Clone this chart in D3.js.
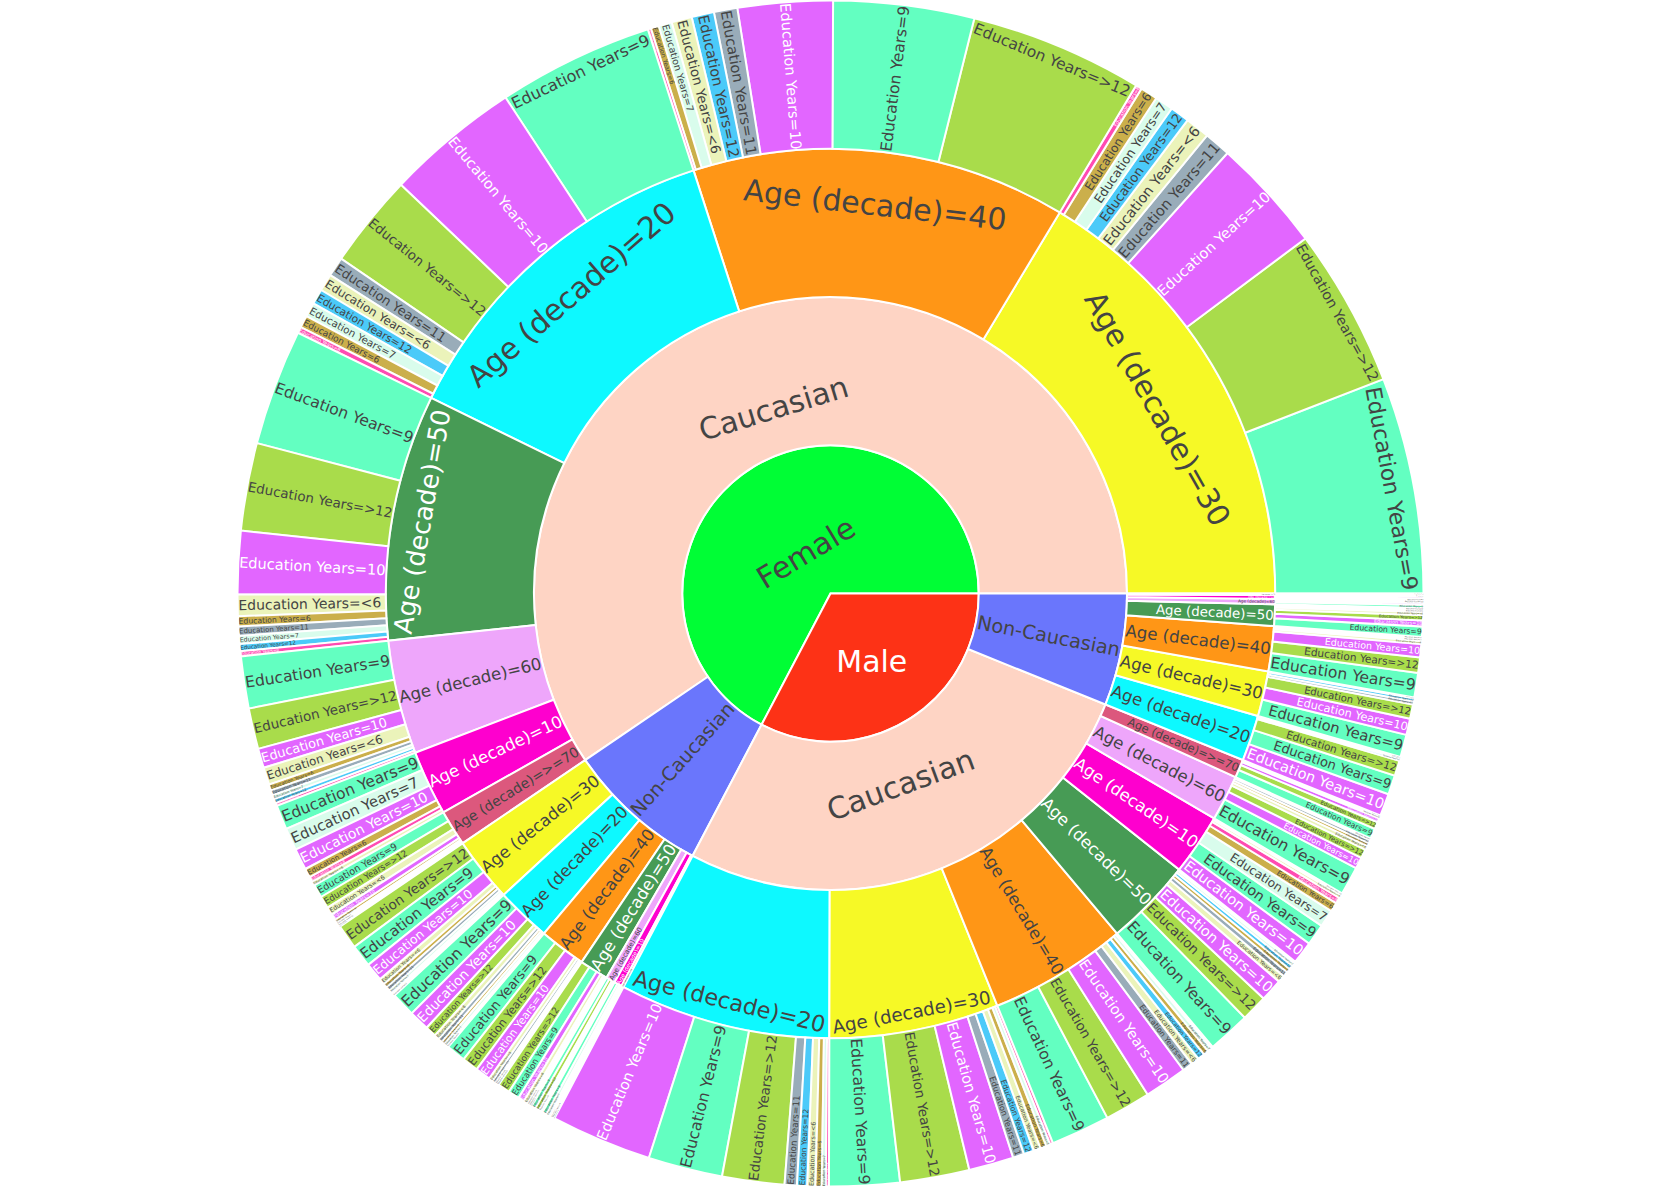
<!DOCTYPE html>
<html>
<head>
<meta charset="utf-8">
<script src="https://cdn.jsdelivr.net/npm/d3@7"></script>
<style>
  html, body { margin: 0; padding: 0; background: #fff; }
  svg { display: block; }
</style>
</head>
<body>
<svg id="chart" width="1661" height="1187"></svg>
<script>
// ---------------- data ----------------
const sexes = ["Female", "Male"];
const races = ["Caucasian", "Non-Caucasian"];
const ageLabels = ["10", "20", "30", "40", "50", "60", ">=70"];
const eduLabels = ["<6", "6", "7", "8", "9", "10", "11", "12", ">12"];

// rows: age decade, then counts for each education level (eduLabels order)
const femaleCaucasian = [
  ["10",   4,  9, 22, 5,  24,  21,  0,  0,   0],
  ["20",  17, 12, 14, 6, 153, 132, 19, 15,  92],
  ["30",  24, 17, 18, 6, 212, 112, 26, 19, 156],
  ["40",  20,  8, 13, 3, 138,  93, 23, 22, 170],
  ["50",  21, 10,  8, 5, 114,  62,  9,  7,  86],
  ["60",  17,  6,  4, 3,  51,  19,  5,  4,  40],
  [">=70", 8,  3,  2, 0,  13,   6,  2,  1,  12]
];
const femaleNonCaucasian = [
  ["10",   0, 1, 3, 0,  4,  2, 0, 0,  0],
  ["20",   5, 3, 3, 0, 24, 20, 4, 2, 11],
  ["30",   6, 4, 3, 2, 22, 18, 4, 2, 24],
  ["40",   4, 2, 0, 0, 19, 15, 3, 2, 16],
  ["50",   4, 2, 1, 0, 11,  6, 2, 0, 12],
  ["60",   2, 0, 0, 0,  4,  2, 0, 0,  4],
  [">=70", 0, 0, 0, 0,  2,  0, 0, 0,  1]
];
const maleCaucasian = [
  ["10",   3, 9, 17, 6, 21, 22,  2,  0,  0],
  ["20",   8, 6,  4, 3, 73, 99, 12, 10, 61],
  ["30",   7, 6,  4, 3, 69, 44, 11, 10, 68],
  ["40",   8, 5,  4, 2, 58, 42, 10,  7, 45],
  ["50",   7, 4,  3, 2, 42, 22,  5,  4, 26],
  ["60",   4, 3,  2, 0, 28, 11,  3,  0,  9],
  [">=70", 2, 0,  0, 0, 10,  4,  1,  0,  7]
];
const maleNonCaucasian = [
  ["10",   0, 0, 1, 0,  2,  2, 0, 0,  0],
  ["20",   1, 0, 0, 0, 19, 22, 1, 2, 15],
  ["30",   1, 0, 0, 0, 22, 16, 3, 3, 14],
  ["40",   3, 0, 0, 0, 24, 13, 2, 2, 15],
  ["50",   3, 0, 0, 0, 10,  6, 2, 2,  5],
  ["60",   0, 0, 0, 0,  3,  2, 0, 0,  2],
  [">=70", 0, 0, 0, 0,  1,  0, 0, 0,  1]
];

// colour order (Light24 palette assigned per label)
const colorLabels = [
  "Male", "Female", "Non-Caucasian", "Caucasian",
  "Age (decade)=10", "Age (decade)=20", "Age (decade)=30", "Age (decade)=40",
  "Age (decade)=50", "Age (decade)=60", "Age (decade)=>=70",
  "Education Years=10", "Education Years=11", "Education Years=12", "Education Years=6",
  "Education Years=7", "Education Years=8", "Education Years=9", "Education Years=<6",
  "Education Years=>12"
];
const palette = [
  "#FD3216", "#00FE35", "#6A76FC", "#FED4C4", "#FE00CE", "#0DF9FF", "#F6F926",
  "#FF9616", "#479B55", "#EEA6FB", "#DC587D", "#D626FF", "#6E899C", "#00B5F7",
  "#B68E00", "#C9FBE5", "#FF0092", "#22FFA7", "#E3EE9E", "#86CE00"
];

// ---------------- layout ----------------
const W = 1661, H = 1187;
const cx = W / 2, cy = H / 2, R = 593;
const FONT_SIZE = 30, FONT_FAMILY = "DejaVu Sans", TEXTPAD = 3;
const LEAF_OPACITY = 0.7;

function ageChildren(rows) {
  return rows.map(r => ({
    name: "Age (decade)=" + r[0],
    children: eduLabels
      .map((e, i) => ({ name: "Education Years=" + e, value: r[i + 1] }))
      .filter(d => d.value > 0)
  }));
}
const tree = {
  name: "",
  children: [
    { name: sexes[0], children: [
      { name: races[0], children: ageChildren(femaleCaucasian) },
      { name: races[1], children: ageChildren(femaleNonCaucasian) } ] },
    { name: sexes[1], children: [
      { name: races[0], children: ageChildren(maleCaucasian) },
      { name: races[1], children: ageChildren(maleNonCaucasian) } ] }
  ]
};

const root = d3.hierarchy(tree)
  .sum(d => d.value || 0)
  .sort((a, b) => b.value - a.value);
d3.partition().size([2 * Math.PI, root.height + 1])(root);

const color = d3.scaleOrdinal().domain(colorLabels).range(palette);
const rScale = d3.scaleLinear().domain([1, root.height + 1]).range([0, R]);

// plotly: first sector starts at 3 o'clock, counterclockwise
const arc = d3.arc()
  .startAngle(d => Math.PI / 2 - d.x1)
  .endAngle(d => Math.PI / 2 - d.x0)
  .innerRadius(d => rScale(d.y0))
  .outerRadius(d => rScale(d.y1));

const svg = d3.select("#chart");
const g = svg.append("g").attr("transform", `translate(${cx},${cy})`);

const nodes = root.descendants().filter(d => d.depth > 0);

g.append("g").selectAll("path")
  .data(nodes)
  .join("path")
  .attr("d", arc)
  .attr("fill", d => color(d.data.name))
  .attr("opacity", d => d.children ? 1 : LEAF_OPACITY)
  .attr("stroke", "#fff")
  .attr("stroke-width", 2);

// ---------------- labels (plotly "auto" inside text) ----------------
const meas = svg.append("text")
  .attr("font-family", FONT_FAMILY).attr("font-size", FONT_SIZE)
  .attr("x", -9999).attr("y", -9999);
const cache = {};
function measure(s) {
  if (!cache[s]) {
    meas.text(s);
    const b = meas.node().getBBox();
    cache[s] = { w: b.width, h: b.height };
  }
  return cache[s];
}
function mod(v, m) { const o = v % m; return o < 0 ? o + m : o; }
function angleDelta(a, b) { return mod(b - a + Math.PI, 2 * Math.PI) - Math.PI; }
function calcRotate(t) { return (180 / Math.PI * t + 720) % 180 - 90; }
function calcMaxHalfSize(a, halfAngle, r, ring) {
  const q = a + 1 / (2 * Math.tan(halfAngle));
  return r * Math.min(1 / (Math.sqrt(q * q + 0.5) + q), ring / (Math.sqrt(a * a + ring / 2) + a));
}
function insideTransform(bb, d) {
  const rpx0 = rScale(d.y0), rpx1 = rScale(d.y1);
  const halfAngle = 0.5 * Math.min(angleDelta(d.x0, d.x1) || Math.PI, Math.PI);
  const ring = 1 - rpx0 / rpx1;
  const full = Math.abs(d.x1 - d.x0 - 2 * Math.PI) < 1e-9;
  const rIns = (rpx0 === 0 && full) ? 1 :
    Math.max(0, Math.min(1 / (1 + 1 / Math.sin(halfAngle)), ring / 2));
  const d3mid = Math.PI / 2 - (d.x0 + d.x1) / 2;
  const cands = [];
  const diam = Math.sqrt(bb.w * bb.w + bb.h * bb.h);
  const hor = { scale: rIns * rpx1 * 2 / diam, rCenter: 1 - rIns, rotate: 0 };
  if (hor.scale >= 1) return hor;
  cands.push(hor);
  const rr = Math.max(0, rpx1 - 2 * TEXTPAD);
  let a = bb.w / bb.h, s = calcMaxHalfSize(a, halfAngle, rr, ring);
  cands.push({ scale: s * 2 / bb.h, rCenter: Math.cos(s / rr) - a * s / rr, rotate: calcRotate(d3mid) });
  a = bb.h / bb.w; s = calcMaxHalfSize(a, halfAngle, rr, ring);
  cands.push({ scale: s * 2 / bb.w, rCenter: Math.cos(s / rr) - a * s / rr, rotate: calcRotate(d3mid + Math.PI / 2) });
  let best = cands[0], m = 0;
  cands.forEach(c => { if (m < c.scale) { m = c.scale; best = c; } });
  return best;
}
function textColor(c) {
  const rgb = d3.rgb(c);
  const br = (rgb.r * 299 + rgb.g * 587 + rgb.b * 114) / 1000;
  return br < 128 ? "#fff" : "#444";
}

const labels = g.append("g");
nodes.forEach(d => {
  const label = d.data.name;
  const bb = measure(label);
  const t = insideTransform(bb, d);
  const sc = Math.min(1, t.scale);
  if (!(sc > 0)) return;
  const mid = (d.x0 + d.x1) / 2;
  const rc = t.rCenter * rScale(d.y1);
  const x = rc * Math.cos(mid), y = -rc * Math.sin(mid);
  labels.append("text")
    .attr("transform", `translate(${x},${y}) rotate(${t.rotate})`)
    .attr("text-anchor", "middle")
    .attr("dy", "0.346em")
    .attr("font-family", FONT_FAMILY)
    .attr("font-size", FONT_SIZE * sc)
    .attr("fill", textColor(color(label)))
    .text(label);
});
meas.remove();
</script>
</body>
</html>
